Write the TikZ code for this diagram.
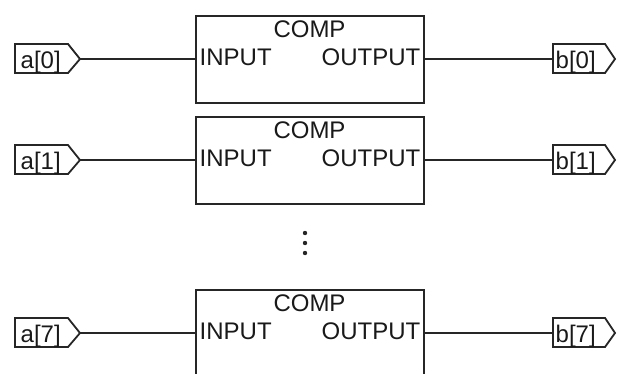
\documentclass[tikz,border=0pt]{standalone}
\usepackage{fontspec}
\setmainfont{Liberation Sans}
\begin{document}
\begin{tikzpicture}[x=1pt,y=-1pt,
  compbox/.style={draw=black!85, line width=1.8pt, minimum width=228pt, minimum height=87pt, inner sep=0pt},
  lbl/.style={inner sep=0pt, text=black!90, font=\fontsize{24}{24}\selectfont},
  flagline/.style={draw=black!85, line width=1.8pt, line join=miter},
  wire/.style={draw=black!85, line width=1.4pt}]
\useasboundingbox (0,0) rectangle (617,373);
\foreach \i/\w in {0/59,1/160,7/333} {
  \node[compbox, anchor=north west] (box\i) at (195,\w-44) {};
  \node[lbl, anchor=base] (comp\i) at (309.5,\w-22) {COMP};
  \node[lbl, anchor=base west] (in\i) at (199.5,\w+6) {INPUT};
  \node[lbl, anchor=base east] (out\i) at (420.5,\w+6) {OUTPUT};
  % input flag
  \draw[flagline] (15,\w-15) -- (68,\w-15) -- (80,\w) -- (68,\w+14) -- (15,\w+14) -- cycle;
  \coordinate (atip\i) at (80,\w);
  \node[lbl, anchor=base west] (a\i) at (20.5,\w+9) {a[\i]};
  % output flag
  \draw[flagline] (553,\w-15) -- (605,\w-15) -- (615,\w) -- (605,\w+14) -- (553,\w+14) -- cycle;
  \coordinate (bin\i) at (553,\w);
  \node[lbl, anchor=base west] (b\i) at (555.5,\w+9) {b[\i]};
  % wires
  \draw[wire] (atip\i) -- (atip\i -| box\i.west);
  \draw[wire] (box\i.east |- bin\i) -- (bin\i);
}
\foreach \y in {233,243,253} \fill[black!85] (305,\y) circle (2.2);
\end{tikzpicture}
\end{document}
